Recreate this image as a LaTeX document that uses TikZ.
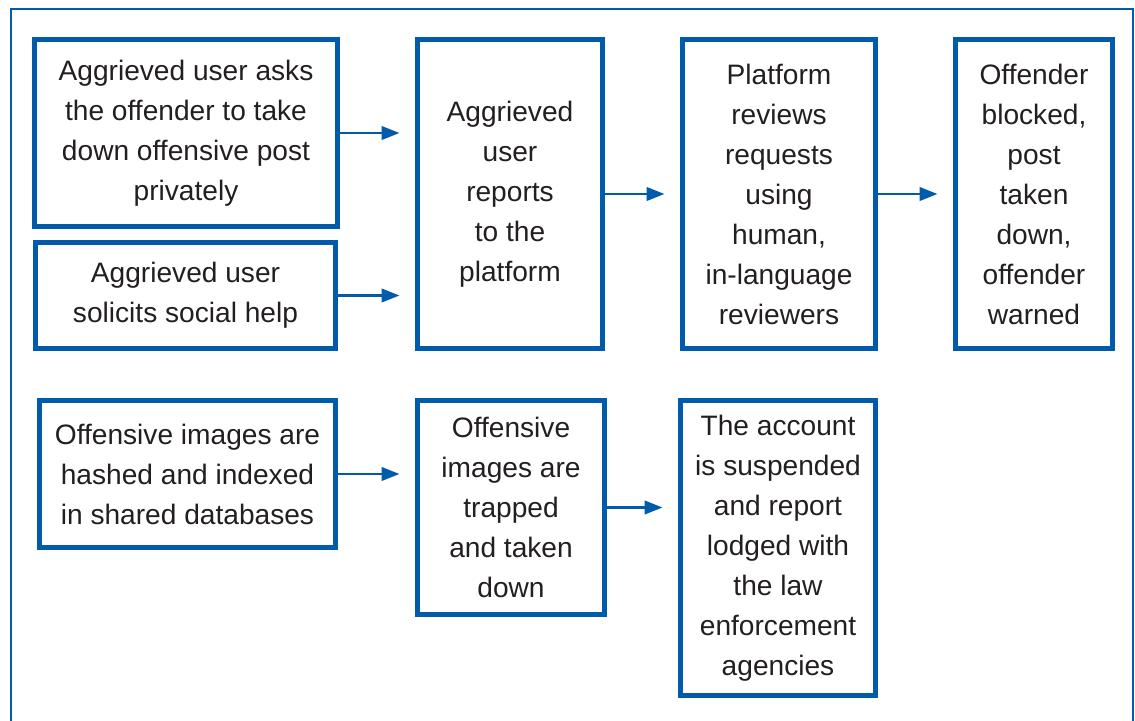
\documentclass[tikz,border=0pt]{standalone}
\usepackage{fontspec}
\setmainfont{Liberation Sans}
\usepackage{xcolor}
\usepackage{tikz}
\usetikzlibrary{arrows.meta, positioning, calc}

\definecolor{flowblue}{RGB}{0,91,170}
\definecolor{flowtext}{RGB}{35,31,32}

\begin{document}
\begin{tikzpicture}[
    box/.style={rectangle, draw=flowblue, line width=2.85pt, fill=white, align=center, inner sep=2pt, text=flowtext, font=\fontsize{16}{22.76}\selectfont},
    arr/.style={-{Triangle[length=0.36cm, width=0.27cm]}, line width=1.4pt, draw=flowblue, shorten >=0.31cm},
    frame/.style={draw=flowblue, line width=1pt}
]
    \useasboundingbox (0,0) rectangle (22.7,14.4);

    % Khung ngoài (mở ở cạnh dưới)
    \draw[frame] (0.22,-0.2) -- (0.22,14.22) -- (22.66,14.22) -- (22.66,-0.2);

    % Hàng 1: báo cáo của người dùng
    \node[box, minimum width=6.06cm, minimum height=3.74cm] (ask) at (3.72, 11.74) {Aggrieved user asks\\the offender to take\\down offensive post\\privately};

    \node[box, minimum width=6.0cm, minimum height=2.12cm] (help) at (3.71, 8.49) {Aggrieved user\\solicits social help};

    \node[box, minimum width=3.7cm, minimum height=6.18cm] (report) at (10.2, 10.52) {Aggrieved\\user\\reports\\to the\\platform};

    \node[box, minimum width=3.86cm, minimum height=6.18cm] (review) at (15.58, 10.52) {Platform\\reviews\\requests\\using\\human,\\in-language\\reviewers};

    \node[box, minimum width=3.14cm, minimum height=6.18cm] (blocked) at (20.68, 10.52) {Offender\\blocked,\\post\\taken\\down,\\offender\\warned};

    % Hàng 2: ảnh đã được băm
    \node[box, minimum width=5.92cm, minimum height=2.94cm] (hashed) at (3.75, 4.92) {Offensive images are\\hashed and indexed\\in shared databases};

    \node[box, minimum width=3.74cm, minimum height=4.28cm] (trapped) at (10.22, 4.25) {Offensive\\images are\\trapped\\and taken\\down};

    \node[box, minimum width=3.9cm, minimum height=5.9cm] (suspended) at (15.56, 3.44) {The account\\is suspended\\and report\\lodged with\\the law\\enforcement\\agencies};

    % Mũi tên hàng 1
    \draw[arr] (ask.east) -- (ask.east -| report.west);
    \draw[arr] (help.east) -- (help.east -| report.west);
    \draw[arr] (report.east) -- (review.west);
    \draw[arr] (review.east) -- (blocked.west);

    % Mũi tên hàng 2
    \draw[arr] (hashed.east) -- (hashed.east -| trapped.west);
    \draw[arr] (trapped.east) -- (trapped.east -| suspended.west);
\end{tikzpicture}
\end{document}
